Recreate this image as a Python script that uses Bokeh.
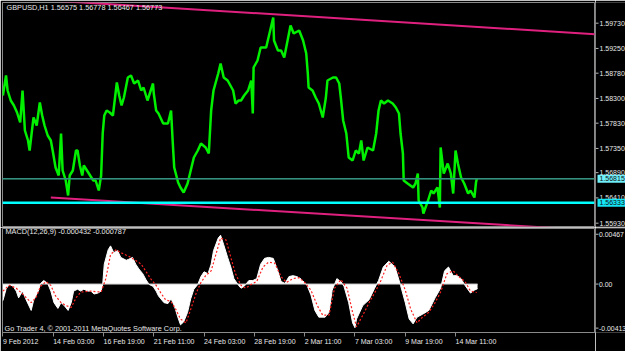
from bokeh.plotting import figure
from bokeh.layouts import column, row
from bokeh.models import Range1d, FixedTicker, Span, Label, LinearAxis
from bokeh.core.properties import value
from bokeh.embed import file_html
from bokeh.resources import INLINE

# ---------------- data ----------------
symbol_title = "GBPUSD,H1  1.56575 1.56778 1.56467 1.56773"
macd_title = "MACD(12,26,9) -0.000432 -0.000787"
copyright_text = "Go Trader 4, \u00a9 2001-2011 MetaQuotes Software Corp."

time_ticks = [0, 64, 128, 192, 256, 320, 384, 448, 512, 576]
time_labels = ["9 Feb 2012", "14 Feb 03:00", "16 Feb 19:00", "21 Feb 11:00", "24 Feb 03:00",
               "28 Feb 19:00", "2 Mar 11:00", "7 Mar 03:00", "9 Mar 19:00", "14 Mar 11:00"]

price_ticks = [1.5973, 1.5925, 1.5878, 1.5830, 1.5783, 1.5735, 1.5689, 1.5641, 1.5593]
price_tick_labels = ["1.59730", "1.59250", "1.58780", "1.58300", "1.57830", "1.57350",
                     "1.56890", "1.56410", "1.55930"]

price_bar = [0, 4, 6, 10, 14, 18, 22, 25, 28, 32, 34, 37, 39, 43, 47, 50, 53, 57, 61, 64, 67, 71, 74, 76,
             80, 83, 85, 89, 93, 95, 98, 101, 103, 107, 111, 115, 118, 122, 125, 127, 129, 132, 136, 140,
             145, 148, 151,
             154, 159, 163, 167, 172, 176, 179, 184, 191, 192, 195, 198, 204, 210, 214, 216, 218, 223,
             226, 230, 235, 239, 243, 248, 252, 258, 262, 265, 268, 274, 277, 281, 286, 293, 296, 300,
             303, 307, 312, 316, 318, 319, 324, 328, 335, 338, 344, 345, 350, 354, 358, 363, 366, 370,
             377, 382, 386, 388, 389, 394, 398, 402, 407, 411, 413, 420, 424, 428, 430, 433, 437, 440,
             445, 449, 453,
             456, 459, 464, 471, 475, 478, 481, 485, 490, 496, 500, 504, 506, 509, 510, 515, 522, 525,
             528, 529, 534, 535, 541, 545, 548, 553, 556, 557, 561, 566, 570, 573, 576, 579, 583, 587,
             592, 595, 600, 602, 603]
price_close = [1.58356, 1.58736, 1.58451, 1.58261, 1.58166, 1.58033, 1.57843, 1.58451, 1.57691, 1.57501,
               1.57311, 1.57691, 1.57938, 1.57786, 1.58223, 1.57976, 1.57786, 1.57596, 1.57501, 1.57254,
               1.56988, 1.56836, 1.57634, 1.56931, 1.56741, 1.56456, 1.56836, 1.56931, 1.57311, 1.57311,
               1.57026, 1.56836, 1.57026, 1.56931, 1.56836, 1.56741, 1.56741, 1.56551, 1.56836, 1.57634,
               1.57976, 1.58071, 1.58033, 1.57976, 1.58603, 1.58356, 1.58166,
               1.58318, 1.58698, 1.58736, 1.58584, 1.58641, 1.58451, 1.58508, 1.58261, 1.58584, 1.58394,
               1.58071, 1.58014, 1.57824, 1.57824, 1.58071, 1.57501, 1.56988, 1.56703, 1.56608, 1.56513,
               1.56684, 1.56931, 1.57178, 1.57311, 1.57444, 1.57368, 1.57254, 1.58071, 1.58451, 1.58774,
               1.58964, 1.58698, 1.58641, 1.58451, 1.58204, 1.58261,
               1.58261, 1.58356, 1.58451, 1.58641, 1.58014, 1.58888, 1.59021, 1.59268, 1.59268, 1.59458,
               1.59838, 1.59401, 1.59211, 1.59211, 1.59078, 1.59458, 1.59686, 1.59534, 1.59591, 1.59401,
               1.59154, 1.58774, 1.58508, 1.58451, 1.58318, 1.58204, 1.57938, 1.58318, 1.58641, 1.58698,
               1.58698, 1.58584, 1.58318, 1.57881, 1.57634, 1.57178, 1.57121, 1.57311, 1.57254,
               1.57501, 1.57121, 1.57368, 1.57311, 1.57634, 1.58071, 1.58261, 1.58204, 1.58261, 1.58204,
               1.58128, 1.58014, 1.57634, 1.57254, 1.56741, 1.56684, 1.56608, 1.56684, 1.56874, 1.56361,
               1.56228, 1.56114, 1.56361, 1.56551, 1.56494, 1.56608, 1.56228, 1.57368, 1.56874, 1.57064,
               1.56874, 1.56494, 1.57311, 1.57064, 1.56798, 1.56684, 1.56494, 1.56551, 1.56418, 1.56703,
               1.56773]

# channel trend lines (two anchors each)
upper_bar = [61, 754]
upper_price = [1.6016, 1.5952]
lower_bar = [61, 754]
lower_price = [1.56418, 1.55791]

# horizontal price lines and their price-scale labels
bid_line = 1.56776
level_line = 1.56318
box_prices = [bid_line, level_line]
box_labels = ["1.56815", "1.56333"]

macd_bar = [0, 4, 8, 13, 17, 20, 25, 29, 36, 39, 45, 48, 52, 57, 61, 65, 70, 74, 78, 83, 87, 90, 95, 99,
            103, 108, 112, 116, 121, 125, 127, 129, 134, 137, 141, 146, 150, 157, 160, 165, 169, 173,
            178, 182, 186, 191, 195, 198, 205, 210, 214, 218, 223, 226, 230, 235, 239, 243, 248, 252,
            256, 261, 265, 268, 274, 277, 281, 286, 290, 294, 299, 303, 307, 313, 318, 323, 328, 333,
            338, 344, 349, 354, 359, 364, 369, 374, 379, 387, 392, 397, 402, 410, 415, 419, 425, 430,
            434, 440, 445, 448, 450, 458, 466, 473, 478, 484, 491, 499, 506, 512, 517, 522, 527, 534,
            542, 550, 557, 562, 567, 573, 578, 583, 588, 595, 600, 604]
macd_hist = [-0.00156, -0.00048, -0.00003, -0.00021, -0.00066, -0.00129, -0.00066, -0.00138, -0.00247,
             -0.00156, -0.00066, 0.00006, 0.00033, 0.00006, -0.00066, -0.00174, -0.00228, -0.00174,
             -0.00201, -0.00247, -0.00174, -0.00066, -0.00048, -0.00066, -0.00048, -0.00066, -0.00066,
             -0.00093, -0.00084, -0.00066, -0.00003, 0.00187, 0.00322, 0.00358, 0.00295, 0.00313,
             0.00250, 0.00223, 0.00232, 0.00250, 0.00187, 0.00142, 0.00097, 0.00042, -0.00003,
             -0.00021, -0.00066, -0.00111, -0.00174, -0.00183, -0.00138, -0.00201, -0.00319, -0.00382,
             -0.00355, -0.00265, -0.00138, -0.00048, -0.00003, 0.00070, 0.00115, 0.00097, 0.00187,
             0.00313, 0.00431, 0.00458, 0.00368, 0.00250, 0.00160, 0.00051, -0.00003, -0.00039,
             -0.00021, 0.00033, 0.00033, 0.00051, 0.00187, 0.00241, 0.00250, 0.00241, 0.00142, 0.00024,
             0.00006, 0.00070, 0.00079, 0.00070, 0.00051, -0.00012, -0.00102, -0.00247, -0.00310,
             -0.00310, -0.00265, -0.00057, 0.00051, 0.00024, -0.00021, -0.00174, -0.00364, -0.00409,
             -0.00328, -0.00201, -0.00147, -0.00039, 0.00033, 0.00160, 0.00214, 0.00160, -0.00012,
             -0.00174, -0.00328, -0.00373, -0.00310, -0.00283, -0.00247, -0.00129, -0.00039, 0.00124,
             0.00160, 0.00079, 0.00079, 0.00051, -0.00012, -0.00084, -0.00057, -0.00043]

signal_bar = [0, 8, 17, 25, 36, 42, 48, 55, 61, 67, 74, 80, 87, 93, 99, 112, 125, 131, 137, 144, 150,
              163, 176, 188, 195, 201, 207, 214, 220, 226, 233, 239, 246, 252, 258, 265, 271, 277, 284,
              290, 296, 303, 309, 316, 323, 331, 338, 346, 354, 361, 369, 377, 384, 392, 400, 407, 415,
              422, 430, 438, 445, 450, 458, 466, 473, 481, 489, 496, 504, 512, 519, 527, 534, 542, 550,
              557, 565, 573, 580, 588, 595, 603]
signal_val = [-0.00066, -0.00012, -0.00039, -0.00093, -0.00174, -0.00129, -0.00021, 0.00024, -0.00012,
              -0.00111, -0.00174, -0.00201, -0.00219, -0.00129, -0.00075, -0.00066, -0.00075, 0.00051,
              0.00277, 0.00322, 0.00295, 0.00250, 0.00187, 0.00051, -0.00012, -0.00084, -0.00147,
              -0.00165, -0.00237, -0.00328, -0.00364, -0.00237, -0.00084, 0.00015, 0.00079, 0.00124,
              0.00277, 0.00431, 0.00413, 0.00250, 0.00097, -0.00012, -0.00039, -0.00003, 0.00024,
              0.00160, 0.00205, 0.00196, 0.00070, 0.00015, 0.00051, 0.00060, 0.00015, -0.00057,
              -0.00201, -0.00292, -0.00292, -0.00039, 0.00042, -0.00039, -0.00265, -0.00400, -0.00292,
              -0.00174, -0.00084, 0.00033, 0.00178, 0.00205, 0.00097, -0.00057, -0.00237, -0.00364,
              -0.00310, -0.00265, -0.00174, -0.00075, 0.00097, 0.00124, 0.00070, 0.00024, -0.00066,
              -0.00079]

macd_ticks = [0.00467, 0.0, -0.00413]
macd_tick_labels = ["0.00467", "0.00", "-0.00413"]

# ---------------- styling ----------------
FONT = "Liberation Sans"
TXT = "#e8e8e8"
GRAY = "#8a8a8a"
AXIS = "#b8b8b8"
FS = "7.3px"
AFS = "7px"

xr = Range1d(-0.5, 752.8)
y_price = Range1d(1.55867, 1.60123)
y_macd = Range1d(-0.00454, 0.00521)


def panel(height, yr, top, bottom):
    f = figure(width=595, height=height, x_range=xr, y_range=yr,
               output_backend="svg", toolbar_location=None,
               x_axis_location=None, y_axis_location=None,
               min_border_left=2, min_border_right=1,
               min_border_top=top, min_border_bottom=bottom,
               background_fill_color="black", border_fill_color="black",
               outline_line_color=GRAY, outline_line_width=1)
    f.grid.visible = False
    return f


def strip(height, yr, top, bottom):
    s = figure(width=30, height=height, x_range=Range1d(0, 30), y_range=yr,
               output_backend="svg", toolbar_location=None,
               x_axis_location=None, y_axis_location=None,
               min_border_left=0, min_border_right=0,
               min_border_top=top, min_border_bottom=bottom,
               background_fill_color="black", border_fill_color="black",
               outline_line_color=None)
    s.grid.visible = False
    return s


def label(x, y, text):
    return Label(x=x, y=y, x_units="screen", y_units="screen", text=text,
                 text_font=FONT, text_font_size=FS, text_color=TXT,
                 text_baseline="middle", text_align="left")


# ---------------- main price panel ----------------
p1 = panel(227, y_price, 2, 1)
p1.line(price_bar, price_close, line_color="#00f000", line_width=2.5)
p1.line(upper_bar, upper_price, line_color="#e0207f", line_width=2)
p1.line(lower_bar, lower_price, line_color="#e0207f", line_width=2)
p1.add_layout(Span(location=bid_line, dimension="width", line_color="#1f7a3a", line_width=1.5))
p1.add_layout(Span(location=bid_line, dimension="width", line_color="#4aa6c8",
                   line_width=1.5, line_dash="1 1"))
p1.add_layout(Span(location=level_line, dimension="width", line_color="#00ffff", line_width=2.5))
p1.add_layout(label(4, 218.7, symbol_title))

s1 = strip(227, y_price, 2, 1)
s1.segment(x0=0, y0=price_ticks, x1=3, y1=price_ticks, line_color=AXIS, line_width=1)
s1.text(x=4, y=price_ticks, text=price_tick_labels, text_font=value(FONT),
        text_font_size=AFS, text_color=TXT, text_baseline="middle")
s1.rect(x=16, y=box_prices, width=28, height=8, height_units="screen",
        fill_color=["#6ff0fa", "#14e6f6"], line_color=None)
s1.text(x=4, y=box_prices, text=box_labels, text_font=value(FONT),
        text_font_size=AFS, text_color="#101010", text_baseline="middle")

# ---------------- MACD panel ----------------
p2 = panel(124, y_macd, 1, 15)
p2.add_layout(
    LinearAxis(
        ticker=FixedTicker(ticks=time_ticks),
        major_label_overrides={t: s for t, s in zip(time_ticks, time_labels)},
        major_label_orientation=-0.0001,
        axis_line_color=GRAY, major_tick_line_color=GRAY,
        major_tick_out=4, major_tick_in=0, minor_tick_line_color=None,
        major_label_standoff=5,
        major_label_text_font=FONT, major_label_text_font_size=AFS,
        major_label_text_color=TXT),
    "below")

p2.varea(x=macd_bar, y1=0, y2=macd_hist, fill_color="white")
p2.line(macd_bar, macd_hist, line_color="white", line_width=1)
p2.line([macd_bar[0], macd_bar[-1]], [0, 0], line_color="#d0d0d0", line_width=1)
p2.line(signal_bar, signal_val, line_color="#ff2020", line_width=1.2, line_dash="2 2")
p2.add_layout(label(3, 101.3, macd_title))
p2.add_layout(label(2, 4.5, copyright_text))

s2 = strip(124, y_macd, 1, 15)
s2.segment(x0=0, y0=macd_ticks, x1=3, y1=macd_ticks, line_color=AXIS, line_width=1)
s2.text(x=3.5, y=macd_ticks, text=macd_tick_labels, text_font=value(FONT),
        text_font_size="6.9px", text_color=TXT, text_baseline="middle")

layout = column(row(p1, s1, spacing=0), row(p2, s2, spacing=0), spacing=0)
open("out.html", "w").write(file_html(layout, INLINE))
